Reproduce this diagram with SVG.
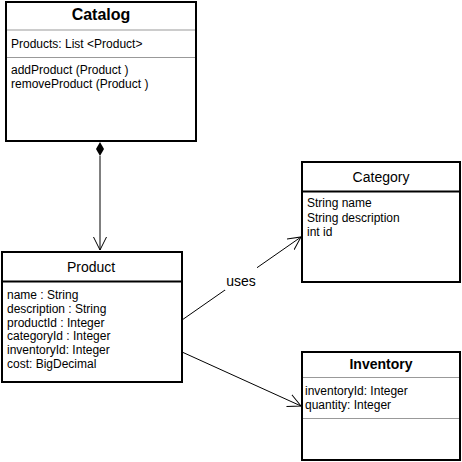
<svg xmlns="http://www.w3.org/2000/svg" width="462" height="462" viewBox="0 0 462 462">
<style>
text{font-family:"Liberation Sans",Arial,sans-serif;fill:#000}
.box{fill:#fff;stroke:#000;stroke-width:2}
.sep{stroke:#999;stroke-width:1}
.sepd{stroke:#000;stroke-width:2}
.t{font-size:14px;text-anchor:middle}
.tb{font-weight:bold}
.a{font-size:12px}
.edge{stroke:#000;stroke-width:1;fill:none}
</style>
<defs>
<marker id="open" viewBox="0 0 14 14" refX="13" refY="7" markerWidth="14" markerHeight="14" markerUnits="userSpaceOnUse" orient="auto">
<path d="M0,0.5 L13,7 L0,13.5" fill="none" stroke="#000" stroke-width="1"/>
</marker>
</defs>
<rect width="462" height="462" fill="#fff"/>
<g id="connectors">
<line class="edge" x1="100" y1="156" x2="100" y2="250" marker-end="url(#open)"/>
<path d="M100,142 L104,149 L100,156 L96,149 Z" fill="#000"/>
<line class="edge" x1="182" y1="320" x2="301" y2="237" marker-end="url(#open)"/>
<rect x="225" y="267" width="32" height="23" fill="#fff"/>
<text x="241" y="286" font-size="14" text-anchor="middle">uses</text>
<line class="edge" x1="182" y1="352" x2="301" y2="406" marker-end="url(#open)"/>
</g>
<g id="catalog">
<rect class="box" x="6" y="2" width="190" height="139"/>
<line class="sep" x1="7" y1="30" x2="195" y2="30"/>
<line class="sep" x1="7" y1="57.5" x2="195" y2="57.5"/>
<text class="tb" x="101" y="19.5" font-size="16" text-anchor="middle">Catalog</text>
<text class="a" x="11" y="47.5">Products: List &lt;Product&gt;</text>
<text class="a" x="11" y="74">addProduct (Product )</text>
<text class="a" x="11" y="87.5">removeProduct (Product )</text>
</g>
<g id="product">
<rect class="box" x="2" y="252" width="180" height="130"/>
<line class="sepd" x1="2" y1="281.5" x2="182" y2="281.5"/>
<text class="t" x="91" y="272">Product</text>
<text class="a" x="7" y="298.5">name : String</text>
<text class="a" x="7" y="312.5">description : String</text>
<text class="a" x="7" y="326.5">productId : Integer</text>
<text class="a" x="7" y="340">categoryId : Integer</text>
<text class="a" x="7" y="354">inventoryId: Integer</text>
<text class="a" x="7" y="368">cost: BigDecimal</text>
</g>
<g id="category">
<rect class="box" x="302" y="162" width="158" height="120"/>
<line class="sepd" x1="302" y1="191.5" x2="460" y2="191.5"/>
<text class="t" x="381" y="182">Category</text>
<text class="a" x="307" y="207">String name</text>
<text class="a" x="307" y="221.5">String description</text>
<text class="a" x="307" y="236">int id</text>
</g>
<g id="inventory">
<rect class="box" x="302" y="352" width="158" height="108"/>
<line class="sep" x1="303" y1="377.5" x2="459" y2="377.5"/>
<line class="sep" x1="303" y1="418.5" x2="459" y2="418.5"/>
<text class="t tb" x="381" y="368.5">Inventory</text>
<text class="a" x="305" y="395">inventoryId: Integer</text>
<text class="a" x="305" y="408.5">quantity: Integer</text>
</g>
</svg>
